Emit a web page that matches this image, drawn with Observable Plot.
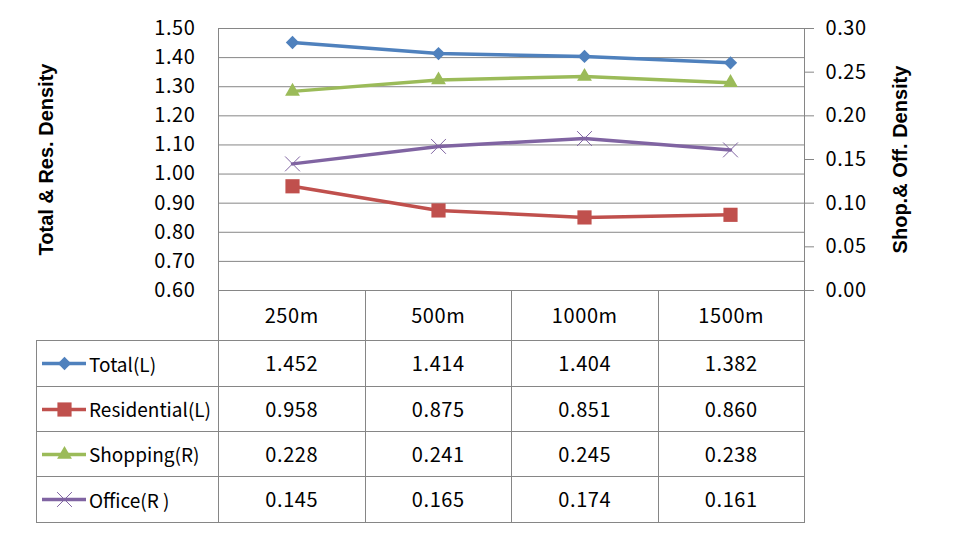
<!DOCTYPE html>
<html><head><meta charset="utf-8">
<script src="https://cdn.jsdelivr.net/npm/d3@7"></script>
<script src="https://cdn.jsdelivr.net/npm/@observablehq/plot@0.6"></script>
<style>
body{margin:0;background:#fff;}
#wrap{position:relative;width:980px;height:534px;overflow:hidden;background:#fff;font-family:"Noto Sans CJK KR","Noto Sans",sans-serif;}
#chart{position:absolute;left:0;top:0;}
#chart g[aria-label="y-axis tick label"] text{letter-spacing:0.6px;}
#tbl{position:absolute;left:36px;top:290px;border-collapse:collapse;table-layout:fixed;}
#tbl td{border:1px solid #868686;padding:0;text-align:center;font-size:20px;letter-spacing:0.6px;color:#000;line-height:1;}
#tbl td.corner{border-left:none;border-top:none;}
#tbl td.lab{text-align:left;font-size:19px;letter-spacing:0;}
.labwrap{display:flex;align-items:center;padding-left:5px;}
.labwrap span{margin-left:3px;}
</style></head>
<body>
<div id="wrap"><div id="chart"></div><table id="tbl"></table></div>
<script>
const categories = ["250m", "500m", "1000m", "1500m"];
const total = [1.452, 1.414, 1.404, 1.382];
const residential = [0.958, 0.875, 0.851, 0.860];
const shopping = [0.228, 0.241, 0.245, 0.238];
const office = [0.145, 0.165, 0.174, 0.161];
const seriesNames = ["Total(L)", "Residential(L)", "Shopping(R)", "Office(R )"];
const leftTicks = [0.6, 0.7, 0.8, 0.9, 1.0, 1.1, 1.2, 1.3, 1.4, 1.5];
const rightTicks = [0, 0.05, 0.10, 0.15, 0.20, 0.25, 0.30];
const leftTitle = "Total & Res. Density";
const rightTitle = "Shop.& Off. Density";

const colors = ["#4F81BD", "#C0504D", "#9BBB59", "#8064A2"];
const symbols = ["diamond2", "square", "triangle", "times"];
const radii = [6, 8, 5.5, 6.8];
const grid = "#868686";

// right axis (0..0.30) mapped onto left axis (0.60..1.50)
const toLeft = v => 0.6 + v * (0.9 / 0.3);
const fromLeft = d => (d - 0.6) * (0.3 / 0.9);

const seriesValues = [total, residential, shopping, office];
const onRight = [false, false, true, true];
const rows = [];
seriesValues.forEach((vals, s) => vals.forEach((v, i) => rows.push({
  series: s, cat: categories[i], value: v, y: onRight[s] ? toLeft(v) : v
})));

const marks = [
  Plot.ruleY(leftTicks, {stroke: grid, strokeWidth: 1}),
  Plot.frame({stroke: grid}),
  Plot.axisY({anchor: "left", ticks: leftTicks, tickFormat: d3.format(".2f"), tickSize: 0, tickPadding: 23, label: null, fontSize: 20}),
  Plot.axisY({anchor: "right", ticks: rightTicks.map(toLeft), tickFormat: d => d3.format(".2f")(fromLeft(d)), tickSize: 9, tickPadding: 12, stroke: grid, label: null, fontSize: 20}),
  Plot.text([leftTitle], {frameAnchor: "left", textAnchor: "middle", dx: -172, rotate: -90, fontWeight: "bold", fontSize: 20, fontFamily: "Liberation Sans, Arial, sans-serif", fill: "#000"}),
  Plot.text([rightTitle], {frameAnchor: "right", textAnchor: "middle", dx: 96, rotate: -90, fontWeight: "bold", fontSize: 20, fontFamily: "Liberation Sans, Arial, sans-serif", fill: "#000"})
];
seriesValues.forEach((vals, s) => {
  const d = rows.filter(r => r.series === s);
  marks.push(Plot.line(d, {x: "cat", y: "y", stroke: colors[s], strokeWidth: 3.5}));
  if (symbols[s] === "times")
    marks.push(Plot.dot(d, {x: "cat", y: "y", symbol: "times", r: radii[s], stroke: colors[s], strokeWidth: 1}));
  else
    marks.push(Plot.dot(d, {x: "cat", y: "y", symbol: symbols[s], r: radii[s], fill: colors[s], stroke: "none"}));
});

const chart = Plot.plot({
  width: 980, height: 534,
  marginLeft: 218, marginRight: 176, marginTop: 28, marginBottom: 244,
  x: {type: "point", domain: categories, padding: 0.5, axis: null},
  y: {domain: [0.6, 1.5]},
  style: {fontFamily: '"Noto Sans CJK KR","Noto Sans",sans-serif', fontSize: "20px", color: "#000", background: "transparent", overflow: "visible"},
  marks
});
document.getElementById("chart").appendChild(chart);

// data table
const tbl = document.getElementById("tbl");
const colW = [182, 146.5, 146.5, 146.5, 146.5];
const cg = document.createElement("colgroup");
colW.forEach(w => { const c = document.createElement("col"); c.style.width = w + "px"; cg.appendChild(c); });
tbl.appendChild(cg);
const head = document.createElement("tr");
head.style.height = "50px";
const corner = document.createElement("td"); corner.className = "corner"; head.appendChild(corner);
categories.forEach(c => { const td = document.createElement("td"); td.textContent = c; td.style.borderTop = "none"; head.appendChild(td); });
tbl.appendChild(head);
const rowH = [46, 45, 45, 46];
seriesValues.forEach((vals, s) => {
  const tr = document.createElement("tr");
  tr.style.height = rowH[s] + "px";
  const lab = document.createElement("td"); lab.className = "lab";
  const wrap = document.createElement("div"); wrap.className = "labwrap";
  const sw = Plot.plot({
    width: 44, height: 20, margin: 0,
    x: {domain: [0, 1], axis: null}, y: {domain: [0, 1], axis: null},
    style: {background: "transparent"},
    marks: [
      Plot.line([[0, 0.5], [1, 0.5]], {stroke: colors[s], strokeWidth: 3.5}),
      symbols[s] === "times"
        ? Plot.dot([[0.5, 0.5]], {symbol: "times", r: radii[s], stroke: colors[s], strokeWidth: 1})
        : Plot.dot([[0.5, 0.5]], {symbol: symbols[s], r: radii[s], fill: colors[s]})
    ]
  });
  wrap.appendChild(sw);
  const sp = document.createElement("span"); sp.textContent = seriesNames[s];
  wrap.appendChild(sp);
  lab.appendChild(wrap);
  tr.appendChild(lab);
  vals.forEach(v => { const td = document.createElement("td"); td.textContent = d3.format(".3f")(v); tr.appendChild(td); });
  tbl.appendChild(tr);
});
</script>
</body></html>
